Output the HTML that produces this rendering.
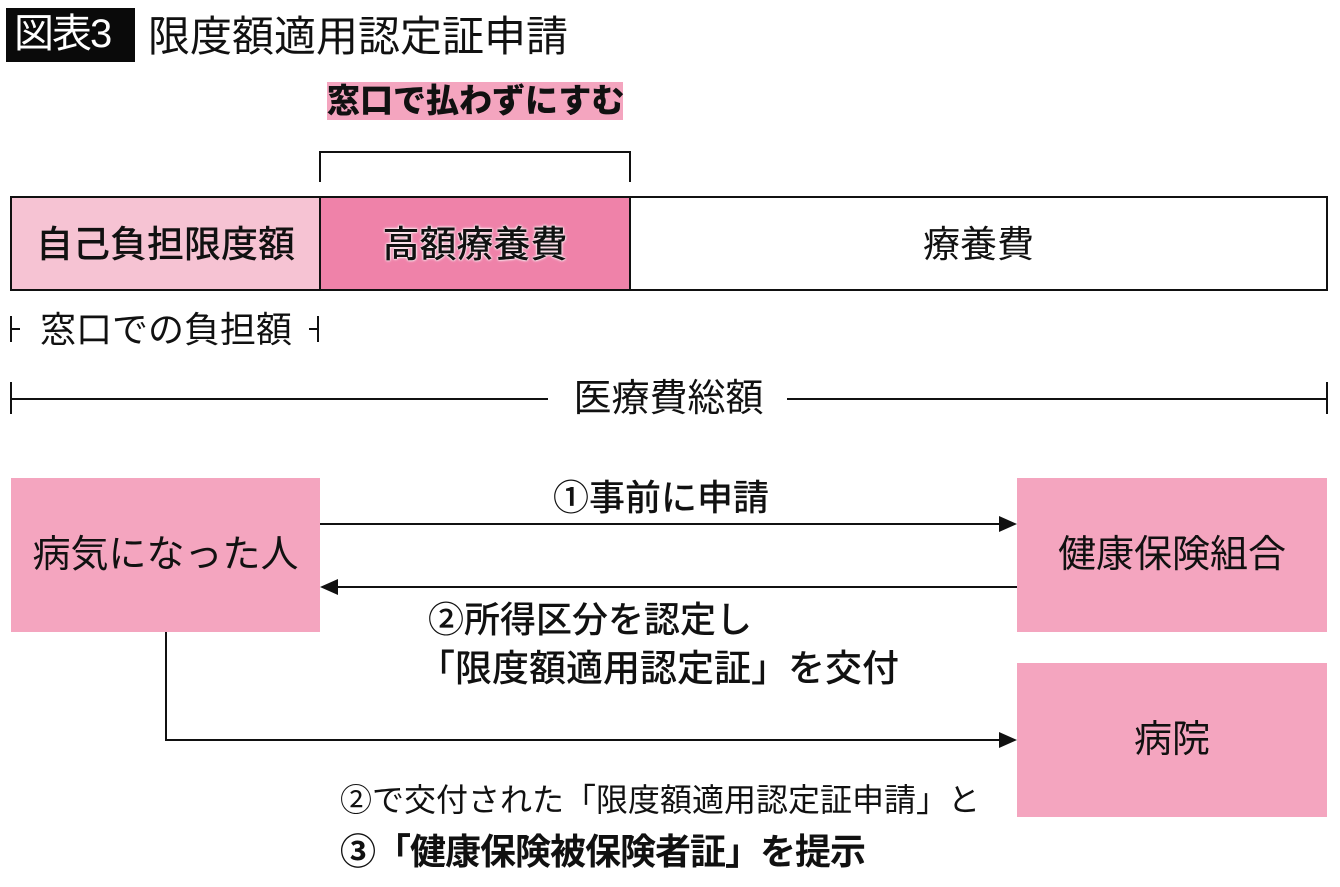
<!DOCTYPE html>
<html><head><meta charset="utf-8"><style>
body{margin:0;width:1340px;height:887px;background:#fff;position:relative;overflow:hidden;font-family:"Liberation Sans","Noto Sans CJK JP",sans-serif;color:#111}
.a{position:absolute;white-space:nowrap;line-height:1}
</style></head><body>
<div class="a" style="left:6px;top:8px;width:129px;height:54px;background:#0a0a0a"></div>
<div class="a" style="left:14px;top:14px;font-size:40px;color:#fff;letter-spacing:-2px">図表3</div>
<div class="a" style="left:148px;top:16px;font-size:42px">限度額適用認定証申請</div>
<div class="a" style="left:327px;top:82px;width:296px;height:38px;background:#f4a5bf"></div>
<div class="a" style="left:327px;top:84px;font-size:33px;font-weight:900">窓口で払わずにすむ</div>
<svg class="a" style="left:0;top:0" width="1340" height="887">
<path d="M320 182V152H630V182" fill="none" stroke="#111" stroke-width="2"/>
<rect x="11" y="197" width="309" height="93" fill="#f6c3d3"/>
<rect x="320" y="197" width="310" height="93" fill="#ef82a9"/>
<rect x="11" y="197" width="1316" height="93" fill="none" stroke="#111" stroke-width="2"/>
<line x1="320" y1="197" x2="320" y2="290" stroke="#111" stroke-width="2"/>
<line x1="630" y1="197" x2="630" y2="290" stroke="#111" stroke-width="2"/>
<path d="M11 382V414M11 399H548M787 399H1327M1327 382V414" fill="none" stroke="#111" stroke-width="2"/>
<path d="M11 316V342M11 329H20M318 316V342M318 329H309" fill="none" stroke="#111" stroke-width="2"/>
<rect x="11" y="478" width="309" height="154" fill="#f4a5bf"/>
<rect x="1017" y="478" width="310" height="154" fill="#f4a5bf"/>
<rect x="1017" y="663" width="310" height="154" fill="#f4a5bf"/>
<line x1="320" y1="524" x2="1000" y2="524" stroke="#111" stroke-width="2"/>
<polygon points="1017,524 999,516 999,532" fill="#111"/>
<line x1="337" y1="587" x2="1017" y2="587" stroke="#111" stroke-width="2"/>
<polygon points="320,587 338,579 338,595" fill="#111"/>
<path d="M166 632V740H1000" fill="none" stroke="#111" stroke-width="2"/>
<polygon points="1017,740 999,732 999,748" fill="#111"/>
</svg>
<div class="a" style="left:11px;top:226px;width:309px;text-align:center;font-size:37px;font-weight:500">自己負担限度額</div>
<div class="a" style="left:320px;top:226px;width:310px;text-align:center;font-size:37px;font-weight:500;text-shadow:0 0 3px #fff,0 0 2px #fff,0 0 1px #fff">高額療養費</div>
<div class="a" style="left:630px;top:226px;width:697px;text-align:center;font-size:37px">療養費</div>
<div class="a" style="left:40px;top:312px;font-size:36px">窓口での負担額</div>
<div class="a" style="left:550px;top:380px;width:237px;text-align:center;font-size:38px">医療費総額</div>
<div class="a" style="left:11px;top:536px;width:309px;text-align:center;font-size:38px">病気になった人</div>
<div class="a" style="left:1017px;top:536px;width:310px;text-align:center;font-size:38px">健康保険組合</div>
<div class="a" style="left:1017px;top:721px;width:310px;text-align:center;font-size:38px">病院</div>
<div class="a" style="left:553px;top:480px;font-size:36px;font-weight:500">①事前に申請</div>
<div class="a" style="left:428px;top:602px;font-size:36px;font-weight:500">②所得区分を認定し</div>
<div class="a" style="left:418px;top:650px;font-size:37px;font-weight:500">「限度額適用認定証」を交付</div>
<div class="a" style="left:340px;top:784px;font-size:32px">②で交付された「限度額適用認定証申請」と</div>
<div class="a" style="left:340px;top:834px;font-size:36px;font-weight:700;letter-spacing:-1px">③「健康保険被保険者証」を提示</div>
</body></html>
